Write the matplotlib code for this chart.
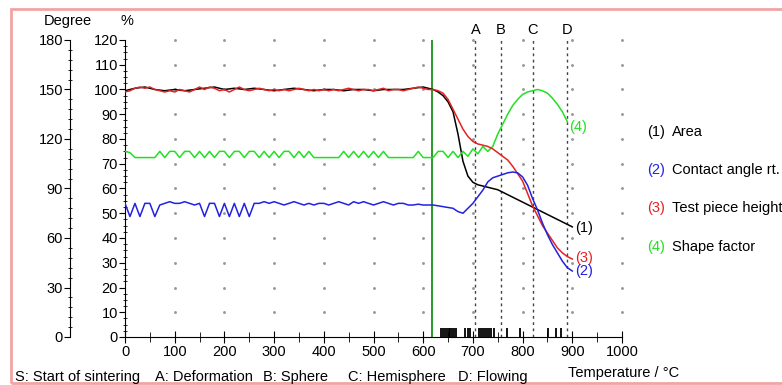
import numpy as np
import matplotlib.pyplot as plt
from matplotlib.patches import Rectangle

plt.rcParams['font.family'] = ['Liberation Sans', 'DejaVu Sans']
FS = 10.5

# Temperature grid for series sampled every 10 degC
temp_10 = list(range(0, 910, 10))

# (3) Test piece height, %
height = [99, 99.5, 100.5, 101, 100.5, 101, 100, 99.5, 99, 99.5,
          99, 100, 99.5, 99, 100, 101, 100, 101, 100.5, 99.5,
          100, 99, 100, 101, 100, 99.5, 100, 100.5, 100, 99.5,
          100, 99.5, 100, 99.5, 100, 100.5, 100, 99.5, 100, 99.5,
          100, 99.5, 100, 99.5, 100, 100.5, 100, 99.5, 100, 100,
          99.5, 100, 100.5, 99.5, 100, 100, 99.5, 100, 100.5, 101,
          100.5, 100, 100, 99.5, 98.5, 96, 92, 88, 84, 81,
          79, 78, 77.5, 77, 76, 74.5, 73, 71.5, 69, 66,
          63, 58, 53, 49, 45, 42, 39, 36, 34, 32.5,
          31.5]

# (2) Contact angle rt., degree
contact = [81, 73, 81, 73, 81, 81, 73, 80, 81, 82,
           81, 81, 82, 81, 80, 81, 73, 81, 81, 73,
           81, 73, 81, 73, 81, 73, 81, 81, 82, 81,
           82, 81, 80, 81, 82, 81, 80, 81, 80, 81,
           81, 80, 81, 82, 81, 80, 82, 81, 82, 81,
           80, 81, 82, 81, 80, 81, 81, 80, 80, 80.5,
           80, 80, 80, 79.5, 79, 78.5, 78, 76, 75, 78,
           81, 85, 89, 94, 96.5, 97.5, 98.5, 99.5, 100, 99.5,
           97, 92, 84, 77, 69, 62, 56, 51, 46, 42,
           40]

# (4) Shape factor, % (ends at 890 degC)
shape = [75, 74.5, 72.5, 72.5, 72.5, 72.5, 72.5, 75, 72.5, 75,
         75, 72.5, 75, 75, 72.5, 75, 72.5, 75, 72.5, 75,
         75, 72.5, 75, 75, 72.5, 75, 75, 72.5, 75, 72.5,
         75, 72.5, 75, 75, 72.5, 75, 72.5, 75, 72.5, 72.5,
         72.5, 72.5, 72.5, 72.5, 75, 72.5, 75, 72.5, 75, 72.5,
         75, 72.5, 75, 72.5, 72.5, 72.5, 72.5, 72.5, 72.5, 75,
         72.5, 72.5, 72.5, 75, 75, 72.5, 75, 72.5, 75, 73,
         76, 74, 77, 75, 77, 82, 86, 90, 93.5, 96,
         98, 99, 99.5, 100, 99.5, 98.5, 96.5, 94, 91, 87]

# (1) Area, %
area_temp = [0, 20, 40, 60, 80, 100, 120, 140, 160, 180, 200, 220, 240, 260,
             280, 300, 320, 340, 360, 380, 400, 420, 440, 460, 480, 500,
             520, 540, 560, 580, 600, 610, 620, 630, 640, 650, 660, 670,
             680, 690, 700, 710, 720, 730, 740, 750, 760, 770, 780, 790,
             800, 810, 820, 830, 840, 850, 860, 870, 880, 890, 900]
area = [99.5, 100.5, 101, 100, 99.5, 100, 99.5, 100, 100.5, 101, 100, 100.5,
        100, 100.5, 100, 99.5, 100, 100.5, 100, 99.5, 100, 100, 99.5, 100,
        100, 99.5, 100, 100, 100, 100.5, 101, 100.5, 100, 99, 97.5, 95,
        91, 82, 71, 65, 62.5, 61.5, 61, 60.5, 60, 59.5, 58.5, 57.5, 56.5,
        55.5, 54.5, 53.5, 52.5, 51.5, 50.5, 49.5, 48.5, 47.5, 46.5, 45.5,
        44.5]

# Event markers
start_sinter = 618
event_names = ['A', 'B', 'C', 'D']
event_temps = [705, 756, 820, 889]
rug_temps = [636, 640, 644, 648, 651, 654, 657, 661, 665, 685, 690, 694,
             712, 717, 721, 725, 729, 733, 737, 742, 768, 795, 852, 868, 878]

fig = plt.figure(figsize=(7.82, 3.85), dpi=100)
ax = fig.add_axes([125 / 782, 1 - 337 / 385, 497 / 782, 297 / 385])
ax.set_xlim(0, 1000)
ax.set_ylim(0, 120)
ax.patch.set_alpha(0)

# dotted grid
gx, gy = np.meshgrid(np.arange(100, 1001, 100), np.arange(10, 121, 10))
ax.scatter(gx.ravel(), gy.ravel(), s=1.2, color='#9a9a9a', zorder=0,
           clip_on=False)

ax.axvline(start_sinter, color='#2a9a2a', lw=1.4, zorder=1)
for name, t in zip(event_names, event_temps):
    ax.plot([t, t], [0, 120], ls=(0, (2, 2.5)), color='#444444', lw=1,
            zorder=1, clip_on=False)
    ax.text(t, 124, name, ha='center', va='center', fontsize=FS)

ax.vlines(rug_temps, 0, 3.5, color='black', lw=1.3, zorder=3)

ax.plot(area_temp, area, color='black', lw=1.1, zorder=3)
ax.plot(temp_10, height, color='#e52222', lw=1.1, zorder=4)
ax.plot(temp_10[:len(shape)], shape, color='#22e022', lw=1.1, zorder=3)

ax.text(905, 44, '(1)', color='black', fontsize=FS, va='center')
ax.text(905, 32, '(3)', color='#e52222', fontsize=FS, va='center')
ax.text(893, 85, '(4)', color='#22e022', fontsize=FS, va='center')

for s in ['top', 'right']:
    ax.spines[s].set_visible(False)
ax.set_xticks(range(0, 1001, 100))
ax.set_xticks(range(50, 1000, 100), minor=True)
ax.set_yticks(range(0, 121, 10))
ax.set_yticks(np.arange(0, 120, 2.5), minor=True)
ax.tick_params(axis='x', which='major', direction='inout', length=8,
               labelsize=FS, pad=2)
ax.tick_params(axis='x', which='minor', direction='inout', length=7)
ax.tick_params(axis='y', which='major', direction='out', length=4,
               labelsize=FS, pad=1)
ax.tick_params(axis='y', which='minor', direction='inout', length=3)

# degree axis
ax2 = ax.twinx()
ax2.set_ylim(0, 180)
ax2.plot(temp_10, contact, color='#2222e0', lw=1.1, zorder=3)
ax2.text(905, 40, '(2)', color='#2222e0', fontsize=FS, va='center')
ax2.spines['right'].set_visible(False)
ax2.spines['top'].set_visible(False)
ax2.spines['bottom'].set_visible(False)
ax2.spines['left'].set_visible(True)
ax2.spines['left'].set_position(('outward', 55 * 0.72))
ax2.yaxis.set_ticks_position('left')
ax2.yaxis.set_label_position('left')
ax2.set_yticks(range(0, 181, 30))
ax2.set_yticks(range(0, 180, 6), minor=True)
ax2.tick_params(axis='y', which='major', direction='out', length=4,
                labelsize=FS, pad=1)
ax2.tick_params(axis='y', which='minor', direction='inout', length=3)

fig.text(68 / 782, 1 - 21 / 385, 'Degree', ha='center', va='center', fontsize=FS)
fig.text(127 / 782, 1 - 21 / 385, '%', ha='center', va='center', fontsize=FS)

# legend text on the right
legend = [('(1)', 'black', 'Area', 132), ('(2)', '#2222e0', 'Contact angle rt.', 170),
          ('(3)', '#e52222', 'Test piece height', 208), ('(4)', '#22e022', 'Shape factor', 247)]
for num, col, txt, py in legend:
    fig.text(647 / 782, 1 - py / 385, num, color=col, fontsize=FS, va='center')
    fig.text(672 / 782, 1 - py / 385, txt, color='black', fontsize=FS, va='center')

# bottom captions
captions = [('S: Start of sintering', 15), ('A: Deformation', 155),
            ('B: Sphere', 263), ('C: Hemisphere', 348), ('D: Flowing', 458)]
for txt, px in captions:
    fig.text(px / 782, 1 - 377 / 385, txt, fontsize=FS, va='center')
fig.text(568 / 782, 1 - 373 / 385, 'Temperature / °C', fontsize=FS, va='center')

fig.patches.append(Rectangle((11 / 782, 1 - 383 / 385), 0.99, 374 / 385,
                             transform=fig.transFigure, fill=False,
                             edgecolor='#f3a3a3', lw=2))

fig.savefig('out.png', dpi=100)
